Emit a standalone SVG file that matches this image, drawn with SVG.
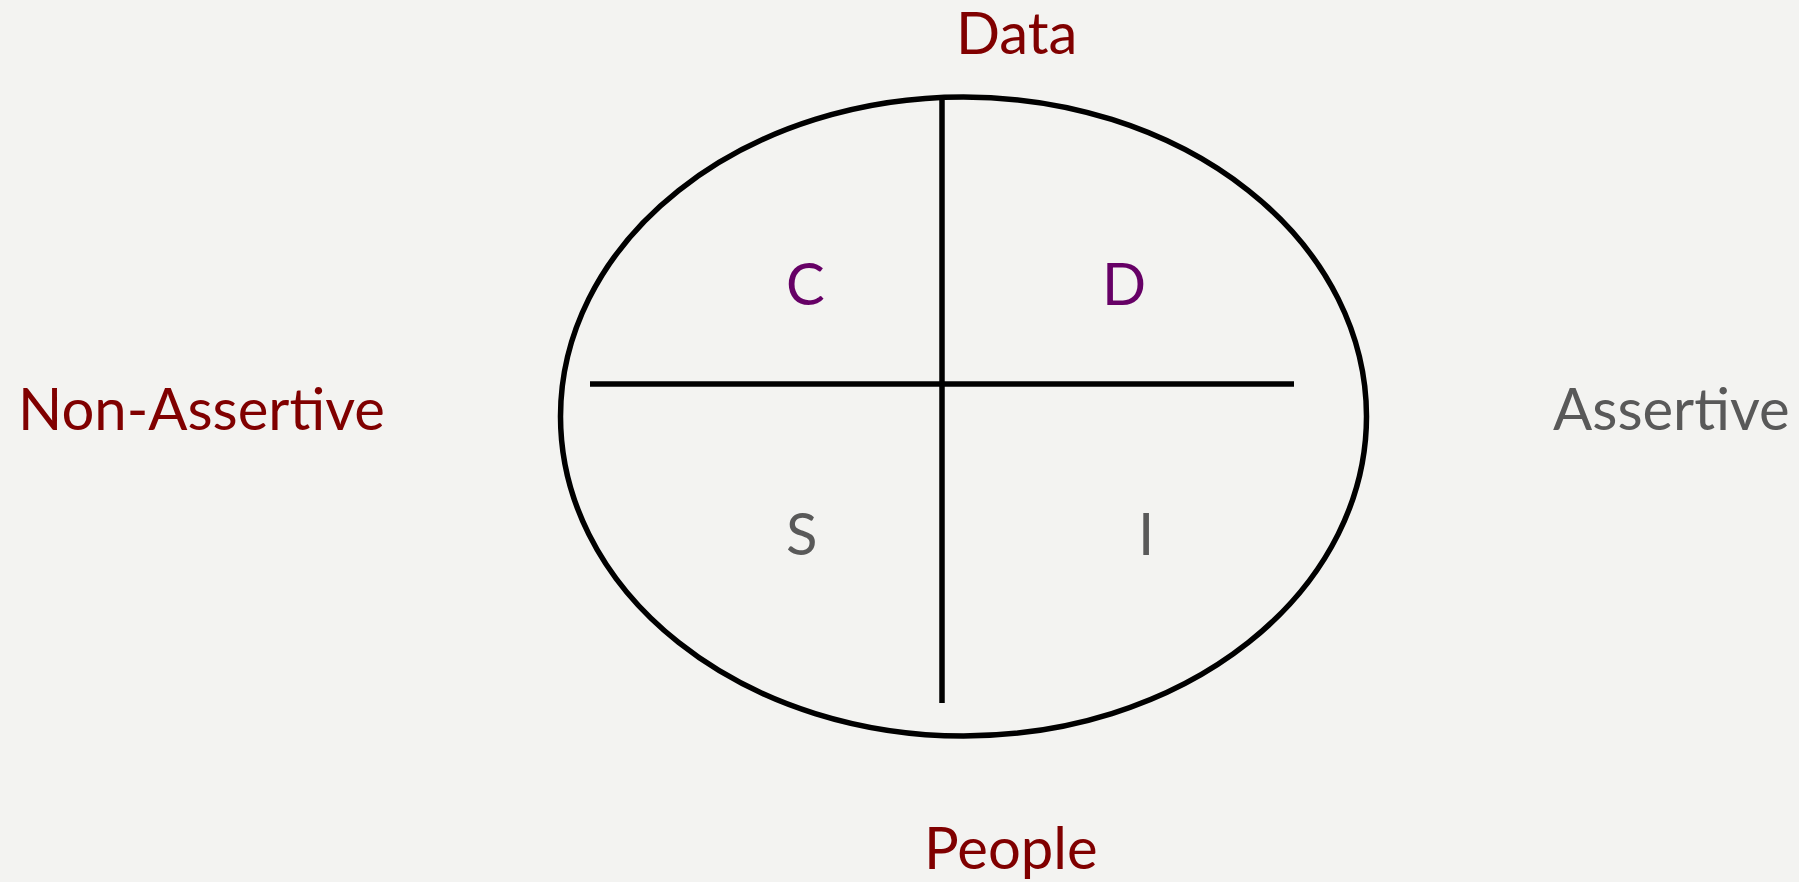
<svg xmlns="http://www.w3.org/2000/svg" width="1799" height="882" viewBox="0 0 1799 882">
<style>
.t{font-family:Lato,"Open Sans","Liberation Sans",sans-serif;font-size:58px}
.red{fill:#800000}.pur{fill:#660066}.gry{fill:#595959}
.ln{stroke:#000;stroke-width:5.5;fill:none}
</style>
<rect width="1799" height="882" fill="#f3f3f1"/>
<g id="ellipse"><ellipse class="ln" cx="963.5" cy="416.5" rx="403" ry="319.5"/></g>
<g id="connectors">
<line class="ln" x1="942" y1="97" x2="942" y2="703"/>
<line class="ln" x1="590" y1="384" x2="1294" y2="384"/>
</g>
<g id="label-data"><text class="t red" x="956" y="54">Data</text></g>
<g id="label-people"><text class="t red" x="924" y="869">People</text></g>
<g id="label-nonassertive"><text class="t red" x="18" y="430">Non-Assertive</text></g>
<g id="label-assertive"><text class="t gry" x="1553" y="430">Assertive</text></g>
<g id="q-c"><text class="t pur" x="786" y="305">C</text></g>
<g id="q-d"><text class="t pur" x="1102" y="305">D</text></g>
<g id="q-s"><text class="t gry" x="786" y="555">S</text></g>
<g id="q-i"><text class="t gry" x="1138" y="555">I</text></g>
</svg>
